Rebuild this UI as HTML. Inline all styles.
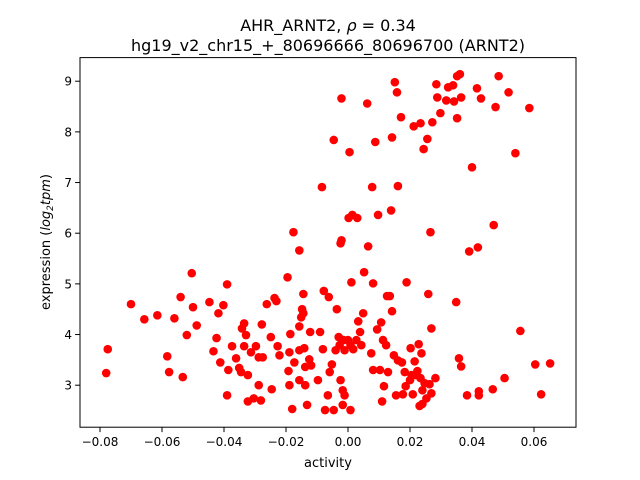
<!DOCTYPE html>
<html><head><meta charset="utf-8"><style>
body{margin:0;background:#fff;}
svg{display:block;font-family:"DejaVu Sans","Liberation Sans",sans-serif;}
</style></head><body>
<svg id="chart" width="640" height="480" xmlns="http://www.w3.org/2000/svg">
<rect width="640" height="480" fill="#fff"/>
<text x="328" y="31" text-anchor="middle" font-size="16">AHR_ARNT2, <tspan font-style="italic">ρ</tspan> = 0.34</text>
<text x="328" y="51" text-anchor="middle" font-size="16">hg19_v2_chr15_+_80696666_80696700 (ARNT2)</text>
<g id="ticks"></g>
<g id="points"></g>
<rect x="80" y="57.6" width="496" height="369.6" fill="none" stroke="#000" stroke-width="1"/>
<text x="328" y="467" text-anchor="middle" font-size="13">activity</text>
<text transform="translate(50,242) rotate(-90)" text-anchor="middle" font-size="13">expression (<tspan font-style="italic">log</tspan><tspan font-size="9" dy="3" font-style="italic">2</tspan><tspan dy="-3" font-style="italic">tpm</tspan>)</text>
</svg>
<script>
const xVals=[-0.078,-0.0775,-0.070,-0.0657,-0.0615,-0.0583,-0.0577,-0.056,-0.054,-0.0533,-0.052,-0.0504,-0.050,-0.0488,-0.0447,-0.0434,-0.0424,-0.0418,-0.0412,-0.0402,-0.039,-0.039,-0.0386,-0.0374,-0.0361,-0.0351,-0.0345,-0.0342,-0.0335,-0.0335,-0.0329,-0.0323,-0.0323,-0.0313,-0.0304,-0.0297,-0.0288,-0.0288,-0.0281,-0.0278,-0.0275,-0.0262,-0.0249,-0.0246,-0.0237,-0.0231,-0.0227,-0.0221,-0.0195,-0.0192,-0.0189,-0.0189,-0.0186,-0.018,-0.0176,-0.0173,-0.0157,-0.0157,-0.0157,-0.0157,-0.0151,-0.0148,-0.0144,-0.0144,-0.0141,-0.0138,-0.0138,-0.0132,-0.0125,-0.0122,-0.0119,-0.0097,-0.009,-0.0084,-0.0081,-0.0078,-0.0074,-0.0065,-0.0062,-0.0059,-0.0052,-0.0046,-0.0046,-0.004,-0.0036,-0.003,-0.0027,-0.0024,-0.0024,-0.0021,-0.0021,-0.0017,-0.0017,-0.0014,-0.0011,-0.0011,0,0.0002,0.0005,0.0008,0.0008,0.0011,0.0014,0.0017,0.0027,0.003,0.0033,0.0039,0.0043,0.0049,0.0052,0.0062,0.0065,0.0075,0.0078,0.0081,0.0081,0.0088,0.0094,0.0097,0.0103,0.0107,0.011,0.0113,0.0116,0.0123,0.0126,0.0129,0.0135,0.0139,0.0142,0.0142,0.0148,0.0151,0.0155,0.0158,0.0161,0.0161,0.0171,0.0174,0.0177,0.0183,0.0189,0.0186,0.02,0.0202,0.0205,0.0209,0.0212,0.0215,0.0218,0.0224,0.0228,0.0231,0.0234,0.0234,0.0237,0.024,0.024,0.0244,0.0247,0.0253,0.0256,0.0259,0.0263,0.0266,0.0269,0.0269,0.0272,0.0282,0.0285,0.0288,0.0298,0.0317,0.0323,0.0339,0.0342,0.0349,0.0352,0.0352,0.0358,0.0361,0.0365,0.0365,0.0384,0.0391,0.04,0.0416,0.0419,0.0422,0.0422,0.0429,0.0467,0.047,0.0476,0.0486,0.0505,0.0518,0.054,0.0556,0.0585,0.0604,0.0623,0.0652];
const yVals=[3.24,3.71,4.6,4.3,4.38,3.57,3.26,4.32,4.74,3.16,3.99,5.21,4.54,4.18,4.64,3.67,3.93,4.42,3.45,4.58,4.99,2.8,3.3,3.77,3.53,3.34,3.26,4.12,4.22,3.77,3.99,3.2,2.68,3.65,2.74,3.77,3.55,3.0,2.7,4.2,3.55,4.6,3.95,2.92,4.72,4.66,3.77,3.59,5.13,3.28,3.65,3.0,4.01,2.53,6.02,3.45,5.66,4.16,3.69,3.1,4.34,4.5,4.8,4.42,3.73,3.36,3.0,2.61,3.51,4.05,3.39,3.1,4.05,6.91,3.71,4.86,2.51,2.8,4.74,3.26,3.41,7.84,2.51,3.69,4.5,3.95,3.79,5.8,3.1,8.66,5.86,2.9,2.61,3.89,2.8,3.69,3.89,6.3,7.6,2.51,3.79,5.03,6.36,3.71,3.89,6.3,4.26,4.05,3.79,4.42,5.23,8.56,5.74,3.63,6.91,5.01,3.3,7.8,4.1,6.36,3.3,4.24,2.68,3.89,2.98,3.79,4.76,3.26,4.76,6.45,4.46,7.89,3.59,8.98,2.8,8.78,6.93,3.49,8.29,3.45,2.82,3.26,5.03,2.98,3.1,3.73,3.2,2.82,8.11,3.47,3.2,3.28,3.81,2.59,8.17,3.14,3.63,2.9,2.63,7.66,3.04,2.74,7.86,4.8,3.02,6.02,4.12,2.84,8.19,3.14,8.94,8.68,8.37,8.62,8.88,8.92,8.6,4.64,9.1,8.27,3.53,9.14,3.37,8.68,2.8,5.64,7.3,8.86,5.72,2.8,2.88,8.66,2.92,6.16,8.49,9.1,3.14,8.78,7.58,4.07,8.47,3.41,2.82,3.43];
const xTicks=[-0.08,-0.06,-0.04,-0.02,0.00,0.02,0.04,0.06];
const xTickLabels=["\u22120.08","\u22120.06","\u22120.04","\u22120.02","0.00","0.02","0.04","0.06"];
const yTicks=[3,4,5,6,7,8,9];
const yTickLabels=["3","4","5","6","7","8","9"];

const L=80,R=576,T=57.6,B=427.2;
const xMin=-0.08645,xMax=0.07355,yMin=2.171,yMax=9.466;
function sx(v){return L+(v-xMin)/(xMax-xMin)*(R-L);}
function sy(v){return B-(v-yMin)/(yMax-yMin)*(B-T);}
const NS="http://www.w3.org/2000/svg";
const tg=document.getElementById('ticks');
xTicks.forEach((t,i)=>{
  const x=sx(t);
  const ln=document.createElementNS(NS,'line');
  ln.setAttribute('x1',x);ln.setAttribute('x2',x);ln.setAttribute('y1',B);ln.setAttribute('y2',B+4.9);
  ln.setAttribute('stroke','#000');
  
  
  tg.appendChild(ln);
  const tx=document.createElementNS(NS,'text');
  tx.setAttribute('x',x);tx.setAttribute('y',B+19);tx.setAttribute('text-anchor','middle');tx.setAttribute('font-size','12');
  tx.textContent=xTickLabels[i];
  
  
  tg.appendChild(tx);
});
yTicks.forEach((t,i)=>{
  const y=sy(t);
  const ln=document.createElementNS(NS,'line');
  ln.setAttribute('x1',L-4.9);ln.setAttribute('x2',L);ln.setAttribute('y1',y);ln.setAttribute('y2',y);
  ln.setAttribute('stroke','#000');
  
  
  tg.appendChild(ln);
  const tx=document.createElementNS(NS,'text');
  tx.setAttribute('x',L-8);tx.setAttribute('y',y+4.5);tx.setAttribute('text-anchor','end');tx.setAttribute('font-size','12');
  tx.textContent=yTickLabels[i];
  
  
  tg.appendChild(tx);
});
const pg=document.getElementById('points');
xVals.forEach((xv,i)=>{
  const c=document.createElementNS(NS,'circle');
  c.setAttribute('cx',sx(xv));c.setAttribute('cy',sy(yVals[i]));c.setAttribute('r','4.3');c.setAttribute('fill','#ff0000');
  
  
  pg.appendChild(c);
});
</script>
</body></html>
